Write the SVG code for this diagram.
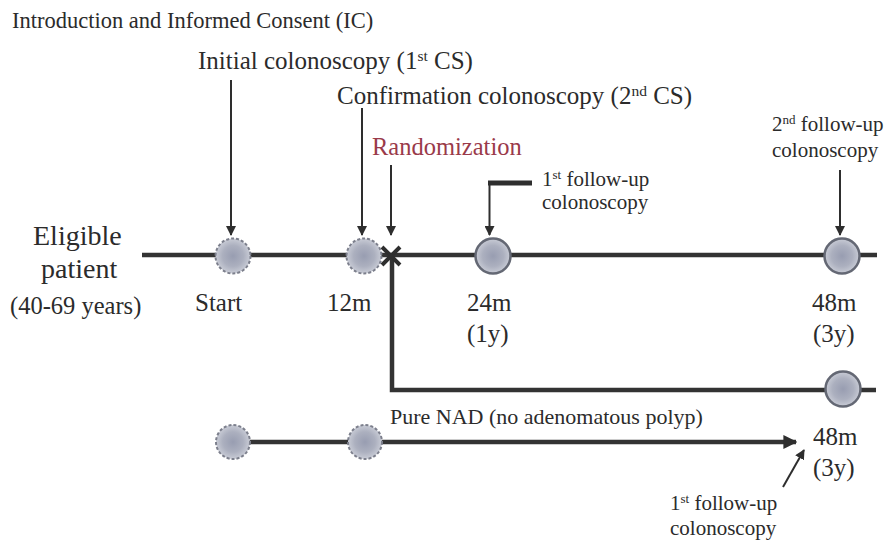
<svg xmlns="http://www.w3.org/2000/svg" width="890" height="540" viewBox="0 0 890 540">
  <defs>
    <radialGradient id="dotFill" cx="50%" cy="50%" r="50%">
      <stop offset="0%" stop-color="#989db1"/>
      <stop offset="60%" stop-color="#acb0bf"/>
      <stop offset="100%" stop-color="#c9ccd6"/>
    </radialGradient>
    <marker id="head" viewBox="0 0 10 10" refX="9" refY="5" markerWidth="10" markerHeight="10" markerUnits="userSpaceOnUse" orient="auto">
      <path d="M0,0 L10,5 L0,10 z" fill="#2e2e2e"/>
    </marker>
    <marker id="headBig" viewBox="0 0 10 10" refX="9" refY="5" markerWidth="14" markerHeight="14" markerUnits="userSpaceOnUse" orient="auto">
      <path d="M0,0 L10,5 L0,10 z" fill="#2e2e2e"/>
    </marker>
  </defs>
  <style>
    text { font-family: "Liberation Serif", "Times New Roman", serif; fill: #2b2b2b; }
    .t22 { font-size: 22px; }
    .t22h { font-size: 22.5px; }
    .t24 { font-size: 24.5px; }
    .t25 { font-size: 25px; }
    .t21 { font-size: 21px; }
    .t28 { font-size: 28px; }
    .red { fill: #9a3a4a; }
    .sup { font-size: 62%; }
    .track { fill: none; stroke: #333333; stroke-width: 4.5; }
    .ptr { fill: none; stroke: #2e2e2e; stroke-width: 2; marker-end: url(#head); }
    .dot-dashed { fill: url(#dotFill); stroke: #7c7f8c; stroke-width: 2; stroke-dasharray: 3 2; }
    .dot-solid { fill: url(#dotFill); stroke: #646874; stroke-width: 2.5; }
  </style>

  <rect width="890" height="540" fill="#ffffff"/>

  <!-- timeline tracks and pointer arrows -->
  <g id="connectors">
    <line class="track" x1="142" y1="255" x2="877" y2="255"/>
    <path class="track" d="M392,256 V390 H876"/>
    <line class="track" x1="233" y1="442" x2="796" y2="442" style="marker-end:url(#headBig)"/>
    <line class="ptr" x1="231" y1="80" x2="231" y2="235"/>
    <line class="ptr" x1="362" y1="108" x2="362" y2="235"/>
    <line class="ptr" x1="391" y1="165" x2="391" y2="235"/>
    <line x1="532" y1="183" x2="488" y2="183" stroke="#2e2e2e" stroke-width="5"/>
    <line class="ptr" x1="489.5" y1="181" x2="489.5" y2="235"/>
    <line class="ptr" x1="840" y1="170" x2="840" y2="235"/>
    <line class="ptr" x1="783" y1="487" x2="804" y2="450"/>
    <!-- randomization cross -->
    <path d="M382,247 L400,265 M400,247 L382,265" stroke="#2e2e2e" stroke-width="4" fill="none"/>
  </g>

  <!-- header labels -->
  <g id="header">
    <text class="t22h" x="12" y="28">Introduction and  Informed Consent (IC)</text>
  </g>
  <g id="label-initial">
    <text class="t25" x="198" y="69">Initial colonoscopy (1<tspan class="sup" baseline-shift="super">st</tspan> CS)</text>
  </g>
  <g id="label-confirmation">
    <text class="t25" x="337" y="104">Confirmation colonoscopy (2<tspan class="sup" baseline-shift="super">nd</tspan> CS)</text>
  </g>
  <g id="label-randomization">
    <text class="t24 red" x="372" y="155">Randomization</text>
  </g>
  <g id="label-fu1">
    <text class="t21" x="542" y="186">1<tspan class="sup" baseline-shift="super">st</tspan> follow-up</text>
    <text class="t21" x="542" y="209">colonoscopy</text>
  </g>
  <g id="label-fu2">
    <text class="t21" x="772" y="131">2<tspan class="sup" baseline-shift="super">nd</tspan> follow-up</text>
    <text class="t21" x="772" y="157">colonoscopy</text>
  </g>

  <!-- population -->
  <g id="eligible">
    <text class="t28" x="33" y="245">Eligible</text>
    <text class="t28" x="41" y="278">patient</text>
    <text class="t24" x="10" y="314">(40-69 years)</text>
  </g>

  <!-- main timeline nodes -->
  <g id="node-start">
    <circle class="dot-dashed" cx="233" cy="256" r="17.5"/>
    <text class="t25" x="195" y="311">Start</text>
  </g>
  <g id="node-12m">
    <circle class="dot-dashed" cx="364" cy="256" r="17.5"/>
    <text class="t25" x="327" y="311">12m</text>
  </g>
  <g id="node-24m">
    <circle class="dot-solid" cx="493" cy="256" r="17.5"/>
    <text class="t25" x="467" y="311">24m</text>
    <text class="t25" x="467" y="342">(1y)</text>
  </g>
  <g id="node-48m">
    <circle class="dot-solid" cx="842" cy="256" r="17.5"/>
    <text class="t25" x="812" y="311">48m</text>
    <text class="t25" x="813" y="342">(3y)</text>
  </g>
  <g id="node-branch-48m">
    <circle class="dot-solid" cx="843" cy="389" r="17.5"/>
  </g>

  <!-- pure NAD track -->
  <g id="node-nad-start">
    <circle class="dot-dashed" cx="233" cy="442" r="17"/>
  </g>
  <g id="node-nad-12m">
    <circle class="dot-dashed" cx="365" cy="442" r="17"/>
    <text class="t22" x="390" y="424">Pure NAD (no adenomatous polyp)</text>
  </g>
  <g id="node-nad-48m">
    <text class="t25" x="813" y="445">48m</text>
    <text class="t25" x="813" y="476">(3y)</text>
    <text class="t21" x="670" y="510">1<tspan class="sup" baseline-shift="super">st</tspan> follow-up</text>
    <text class="t21" x="670" y="535">colonoscopy</text>
  </g>
</svg>
